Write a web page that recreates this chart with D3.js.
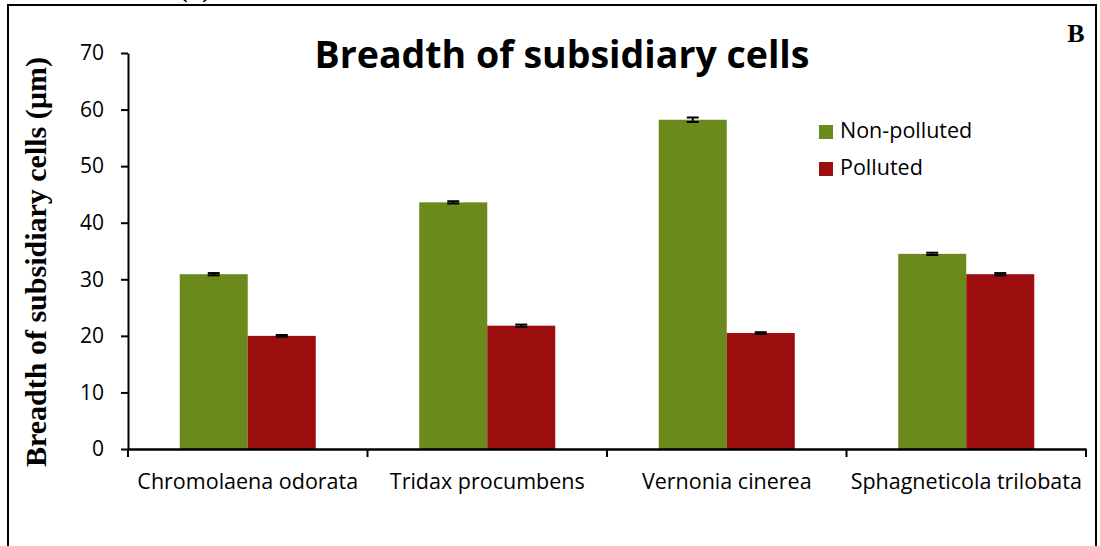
<!DOCTYPE html>
<html lang="en">
<head>
<meta charset="UTF-8">
<title>Breadth of subsidiary cells</title>
<style>
  body { margin: 0; background: #fff; }
  svg { display: block; }
</style>
</head>
<body>
<div id="chart-container"></div>
<script src="https://d3js.org/d3.v7.min.js"></script>
<script>
const species = ["Chromolaena odorata", "Tridax procumbens", "Vernonia cinerea", "Sphagneticola trilobata"];
const seriesNames = ["Non-polluted", "Polluted"];
const nonPolluted = [30.9, 43.6, 58.2, 34.5];
const polluted = [20.0, 21.8, 20.5, 30.9];
const nonPollutedErr = [0.2, 0.2, 0.4, 0.2];
const pollutedErr = [0.15, 0.2, 0.15, 0.2];
const yTicks = [0, 10, 20, 30, 40, 50, 60, 70];
const colors = ["#6a8b1b", "#9c0e0e"];

const W = 1100, H = 546;
const PLOT = {LEFT: 128, RIGHT: 1086, TOP: 53, BOTTOM: 449};

const svg = d3.select("#chart-container").append("svg")
  .attr("width", W).attr("height", H);

// outer frame (bottom edge runs off the picture)
svg.append("path")
  .attr("d", "M8,560 L8,5 L1096,5 L1096,560")
  .attr("fill", "none").attr("stroke", "#000").attr("stroke-width", 2);

// panel label of the figure above, cut off at the top edge as in the source
svg.append("text").attr("x", 195).attr("y", -2)
  .attr("text-anchor", "middle")
  .style("font", "bold 22px 'Liberation Serif'")
  .text("(B)");

svg.append("text").attr("x", 1076).attr("y", 42)
  .attr("text-anchor", "middle")
  .style("font", "bold 26px 'Liberation Serif'")
  .text("B");

const data = species.map((s, i) => ({
  name: s,
  values: [
    {series: seriesNames[0], v: nonPolluted[i], e: nonPollutedErr[i]},
    {series: seriesNames[1], v: polluted[i], e: pollutedErr[i]}
  ]
}));

const x0 = d3.scaleBand().domain(species).range([PLOT.LEFT, PLOT.RIGHT]);
const gap = x0.bandwidth() * 0.216;
const x1 = d3.scaleBand().domain(seriesNames).range([gap, x0.bandwidth() - gap]);
const y = d3.scaleLinear().domain([0, 70]).range([PLOT.BOTTOM, PLOT.TOP]);
const color = d3.scaleOrdinal().domain(seriesNames).range(colors);

// bars
const groups = svg.selectAll(".grp").data(data).enter().append("g")
  .attr("class", "grp")
  .attr("transform", d => `translate(${x0(d.name)},0)`);

groups.selectAll("rect").data(d => d.values).enter().append("rect")
  .attr("x", d => x1(d.series))
  .attr("width", x1.bandwidth())
  .attr("y", d => y(d.v))
  .attr("height", d => y(0) - y(d.v))
  .attr("fill", d => color(d.series));

// error bars
const err = groups.selectAll(".err").data(d => d.values).enter().append("g")
  .attr("class", "err")
  .attr("stroke", "#000").attr("stroke-width", 2);
const cx = d => x1(d.series) + x1.bandwidth() / 2;
err.append("line")
  .attr("x1", cx).attr("x2", cx)
  .attr("y1", d => y(d.v + d.e)).attr("y2", d => y(d.v - d.e));
err.append("line")
  .attr("x1", d => cx(d) - 6).attr("x2", d => cx(d) + 6)
  .attr("y1", d => y(d.v + d.e)).attr("y2", d => y(d.v + d.e));
err.append("line")
  .attr("x1", d => cx(d) - 6).attr("x2", d => cx(d) + 6)
  .attr("y1", d => y(d.v - d.e)).attr("y2", d => y(d.v - d.e));

// y axis
const yAxis = svg.append("g")
  .attr("transform", `translate(${PLOT.LEFT},0)`)
  .call(d3.axisLeft(y).tickValues(yTicks).tickSize(7).tickSizeOuter(0).tickPadding(17));
yAxis.selectAll("path, line").attr("stroke", "#000").attr("stroke-width", 2);
yAxis.selectAll("text")
  .style("font-family", "'Open Sans'").style("font-size", "21px").attr("fill", "#000");

// x axis with ticks on band boundaries
const xAxis = svg.append("g")
  .attr("transform", `translate(0,${PLOT.BOTTOM})`)
  .call(d3.axisBottom(x0).tickSize(0).tickSizeOuter(0).tickPadding(25));
xAxis.select(".domain").attr("stroke", "#000").attr("stroke-width", 2.5);
xAxis.selectAll("text")
  .style("font-family", "'Open Sans'").style("font-size", "21.5px").attr("fill", "#000");
const bounds = species.map(s => x0(s)).concat([x0.range()[1]]);
xAxis.selectAll(".bound").data(bounds).enter().append("line")
  .attr("class", "bound")
  .attr("x1", d => d).attr("x2", d => d)
  .attr("y1", 0).attr("y2", 8)
  .attr("stroke", "#000").attr("stroke-width", 2);

// title
svg.append("text")
  .attr("x", 562).attr("y", 68)
  .attr("text-anchor", "middle")
  .style("font", "bold 37.5px 'Open Sans'")
  .text("Breadth of subsidiary cells");

// y axis title
svg.append("text")
  .attr("transform", "translate(46,262) rotate(-90)")
  .attr("text-anchor", "middle")
  .style("font", "bold 30px 'Liberation Serif'")
  .text("Breadth of subsidiary cells (\u00b5m)");

// legend
const legend = svg.selectAll(".legend").data(seriesNames).enter().append("g")
  .attr("class", "legend")
  .attr("transform", (d, i) => `translate(819,${125 + i * 37})`);
legend.append("rect")
  .attr("width", 14).attr("height", 14)
  .attr("fill", d => color(d));
legend.append("text")
  .attr("x", 21).attr("y", 13)
  .style("font-family", "'Open Sans'").style("font-size", "21.5px")
  .text(d => d);
</script>
</body>
</html>
